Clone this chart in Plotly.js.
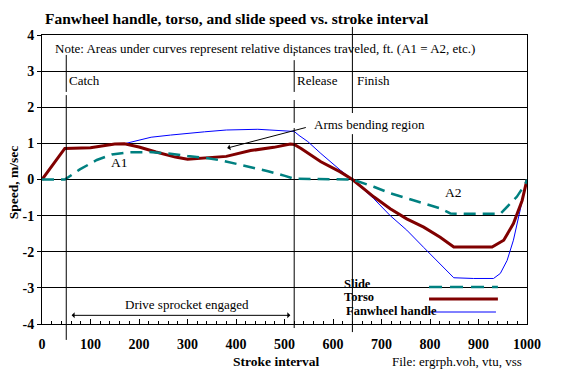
<!DOCTYPE html>
<html>
<head>
<meta charset="utf-8">
<script src="https://cdn.plot.ly/plotly-3.0.1.min.js"></script>
<style>html,body{margin:0;padding:0;background:#fff;}#chart{width:570px;height:371px;}</style>
</head>
<body>
<div id="chart"></div>
<script>
// ---- Data ----
var torsoX = [0, 47, 100, 150, 170, 200, 235, 275, 300, 335, 380, 430, 478, 512, 520, 535, 575, 615, 640, 684, 718, 752, 787, 821, 849, 890, 928, 952, 972, 990, 1000];
var torsoY = [0, 0.86, 0.88, 0.98, 0.99, 0.9, 0.76, 0.62, 0.56, 0.59, 0.64, 0.8, 0.89, 0.98, 0.97, 0.85, 0.49, 0.21, 0, -0.48, -0.81, -1.09, -1.32, -1.6, -1.87, -1.87, -1.87, -1.68, -1.22, -0.58, 0];

var handleX = [0, 47, 100, 150, 170, 200, 225, 265, 300, 335, 380, 415, 445, 470, 512, 520, 530, 548, 575, 615, 640, 684, 718, 752, 787, 821, 849, 890, 931, 945, 959, 972, 986, 997, 1000];
var handleY = [0, 0.86, 0.88, 0.98, 0.99, 1.09, 1.17, 1.23, 1.28, 1.32, 1.37, 1.39, 1.39, 1.37, 1.34, 1.33, 1.22, 1.05, 0.72, 0.26, 0, -0.53, -1.0, -1.4, -1.88, -2.35, -2.72, -2.74, -2.74, -2.6, -2.24, -1.68, -0.85, -0.11, 0];

var slideX = [0, 47, 78, 113, 144, 178, 220, 261, 300, 342, 373, 404, 438, 466, 501, 520, 640, 684, 718, 752, 787, 821, 842, 870, 945, 959, 979, 997, 1000];
var slideY = [0, 0, 0.28, 0.54, 0.69, 0.75, 0.76, 0.72, 0.65, 0.59, 0.52, 0.43, 0.33, 0.23, 0.1, 0.02, 0, -0.2, -0.38, -0.52, -0.66, -0.8, -0.94, -0.95, -0.95, -0.76, -0.48, -0.11, 0];

var seriesNames = ['Slide', 'Torso', 'Fanwheel handle'];
var phaseX = [50, 520, 640];
var phaseLabels = ['Catch', 'Release', 'Finish'];
var xTickVals = [0, 100, 200, 300, 400, 500, 600, 700, 800, 900, 1000];
var yTickVals = [-4, -3, -2, -1, 0, 1, 2, 3, 4];
var yTickText = ['-4', '-3', '-2', '-1', '0', '1', '2', '3', '4'];

// ---- Styling ----
var SERIF = 'Liberation Serif, Times New Roman, serif';
var colSlide = '#008080', colTorso = '#800000', colHandle = '#0000FF';

var traces = [
  {x: handleX, y: handleY, mode: 'lines', name: seriesNames[2], line: {color: colHandle, width: 1}, hoverinfo: 'skip'},
  {x: torsoX, y: torsoY, mode: 'lines', name: seriesNames[1], line: {color: colTorso, width: 3}, hoverinfo: 'skip'},
  {x: slideX, y: slideY, mode: 'lines', name: seriesNames[0], line: {color: colSlide, width: 2.5, dash: '12px,7px'}, hoverinfo: 'skip'}
];

// vertical phase lines (segments, paper y)
var phaseSegs = [
  [[0.931, 0.803], [0.792, -0.055]],
  [[0.941, 0.927], [0.913, 0.803], [0.775, 0.696], [0.678, -0.014]],
  [[1.028, 0.730], [0.657, -0.028]]
];
var shapes = [];
phaseX.forEach(function (px, i) {
  phaseSegs[i].forEach(function (s) {
    shapes.push({type: 'line', xref: 'x', yref: 'paper', x0: px, x1: px, y0: s[0], y1: s[1], line: {color: 'black', width: 1}});
  });
});

// legend samples (text left, line right)
var legY = [0.128, 0.0865, 0.0415];
var legCols = [colSlide, colTorso, colHandle];
var legW = [2.5, 3, 1];
var legDash = ['13px,8px', 'solid', 'solid'];
var legX1 = [0.940, 0.940, 0.936];
for (var i = 0; i < 3; i++) {
  shapes.push({type: 'line', xref: 'paper', yref: 'paper', x0: 0.798, x1: legX1[i], y0: legY[i], y1: legY[i], line: {color: legCols[i], width: legW[i], dash: legDash[i]}});
}

var baseFont = {family: SERIF, size: 13, color: 'black'};
var boldFont = {family: SERIF, size: 13.5, color: 'black', weight: 'bold'};
var legFont = {family: SERIF, size: 12.5, color: 'black', weight: 'bold'};

var annotations = [
  {xref: 'paper', yref: 'paper', x: 0.023, y: 0.955, xanchor: 'left', yanchor: 'middle', text: 'Note: Areas under curves represent relative distances traveled, ft. (A1 = A2, etc.)', showarrow: false, font: baseFont},
  {xref: 'x', yref: 'paper', x: 52, y: 0.841, xanchor: 'left', yanchor: 'middle', text: phaseLabels[0], showarrow: false, font: baseFont},
  {xref: 'x', yref: 'paper', x: 522, y: 0.841, xanchor: 'left', yanchor: 'middle', text: phaseLabels[1], showarrow: false, font: baseFont},
  {xref: 'x', yref: 'paper', x: 646, y: 0.841, xanchor: 'left', yanchor: 'middle', text: phaseLabels[2], showarrow: false, font: baseFont},
  {xref: 'x', yref: 'y', x: 557, y: 1.51, xanchor: 'left', yanchor: 'middle', text: 'Arms bending region', showarrow: false, font: baseFont},
  {xref: 'x', yref: 'y', x: 382, y: 0.87, ax: 547, ay: 1.45, axref: 'x', ayref: 'y', text: '', showarrow: true, arrowhead: 1, arrowsize: 1, arrowwidth: 1, arrowcolor: 'black', standoff: 0},
  {xref: 'x', yref: 'y', x: 160, y: 0.46, xanchor: 'center', yanchor: 'middle', text: 'A1', showarrow: false, font: {family: SERIF, size: 13.5, color: 'black'}},
  {xref: 'x', yref: 'y', x: 848, y: -0.37, xanchor: 'center', yanchor: 'middle', text: 'A2', showarrow: false, font: {family: SERIF, size: 13.5, color: 'black'}},
  {xref: 'x', yref: 'y', x: 299, y: -3.47, xanchor: 'center', yanchor: 'middle', text: 'Drive sprocket engaged', showarrow: false, font: baseFont},
  {xref: 'x', yref: 'y', x: 512, y: -3.76, ax: 58, ay: -3.76, axref: 'x', ayref: 'y', text: '', showarrow: true, arrowside: 'end+start', arrowhead: 1, arrowsize: 1, arrowwidth: 1, arrowcolor: 'black', standoff: 0, startstandoff: 0},
  // legend texts
  {xref: 'paper', yref: 'paper', x: 0.619, y: legY[0] + 0.012, xanchor: 'left', yanchor: 'middle', text: seriesNames[0], showarrow: false, font: legFont},
  {xref: 'paper', yref: 'paper', x: 0.619, y: legY[1] + 0.008, xanchor: 'left', yanchor: 'middle', text: seriesNames[1], showarrow: false, font: legFont},
  {xref: 'paper', yref: 'paper', x: 0.623, y: legY[2] + 0.004, xanchor: 'left', yanchor: 'middle', text: seriesNames[2], showarrow: false, font: legFont},
  // axis titles / footer
  {xref: 'paper', yref: 'paper', x: -0.058, y: 0.49, xanchor: 'center', yanchor: 'middle', textangle: -90, text: 'Speed, m/sec', showarrow: false, font: boldFont},
  {xref: 'paper', yref: 'paper', x: 0.484, y: -0.131, xanchor: 'center', yanchor: 'middle', text: 'Stroke interval', showarrow: false, font: boldFont},
  {xref: 'paper', yref: 'paper', x: 0.856, y: -0.131, xanchor: 'center', yanchor: 'middle', text: 'File: ergrph.voh, vtu, vss', showarrow: false, font: baseFont}
];

var layout = {
  width: 570, height: 371,
  margin: {l: 42, r: 43, t: 35, b: 47, pad: 0},
  paper_bgcolor: 'white', plot_bgcolor: 'white',
  showlegend: false,
  font: {family: SERIF, color: 'black'},
  title: {text: 'Fanwheel handle, torso, and slide speed vs. stroke interval', font: {family: SERIF, size: 15.5, color: 'black', weight: 'bold'}, xref: 'container', yref: 'container', x: 45 / 570, xanchor: 'left', y: 1 - 19 / 371, yanchor: 'middle'},
  xaxis: {
    range: [0, 1000], tickvals: xTickVals, ticks: 'inside', ticklen: 5, tickcolor: 'black', tickwidth: 1,
    minor: {dtick: 20, ticks: 'inside', ticklen: 3, tickcolor: 'black', showgrid: false},
    showgrid: false, zeroline: false, showline: true, linecolor: 'black', linewidth: 1, mirror: true,
    tickfont: {family: SERIF, size: 14, color: 'black', weight: 'bold'}, ticklabelstandoff: 7, fixedrange: true
  },
  yaxis: {
    range: [-4, 4], tickvals: yTickVals, ticktext: yTickText, ticks: 'outside', ticklen: 4, tickcolor: 'black', tickwidth: 1,
    showgrid: true, gridcolor: 'black', gridwidth: 1, zeroline: true, zerolinecolor: 'black', zerolinewidth: 1,
    showline: true, linecolor: 'black', linewidth: 1, mirror: true,
    tickfont: {family: SERIF, size: 14, color: 'black', weight: 'bold'}, fixedrange: true
  },
  shapes: shapes,
  annotations: annotations
};

Plotly.newPlot('chart', traces, layout, {staticPlot: true, displayModeBar: false});
</script>
</body>
</html>
